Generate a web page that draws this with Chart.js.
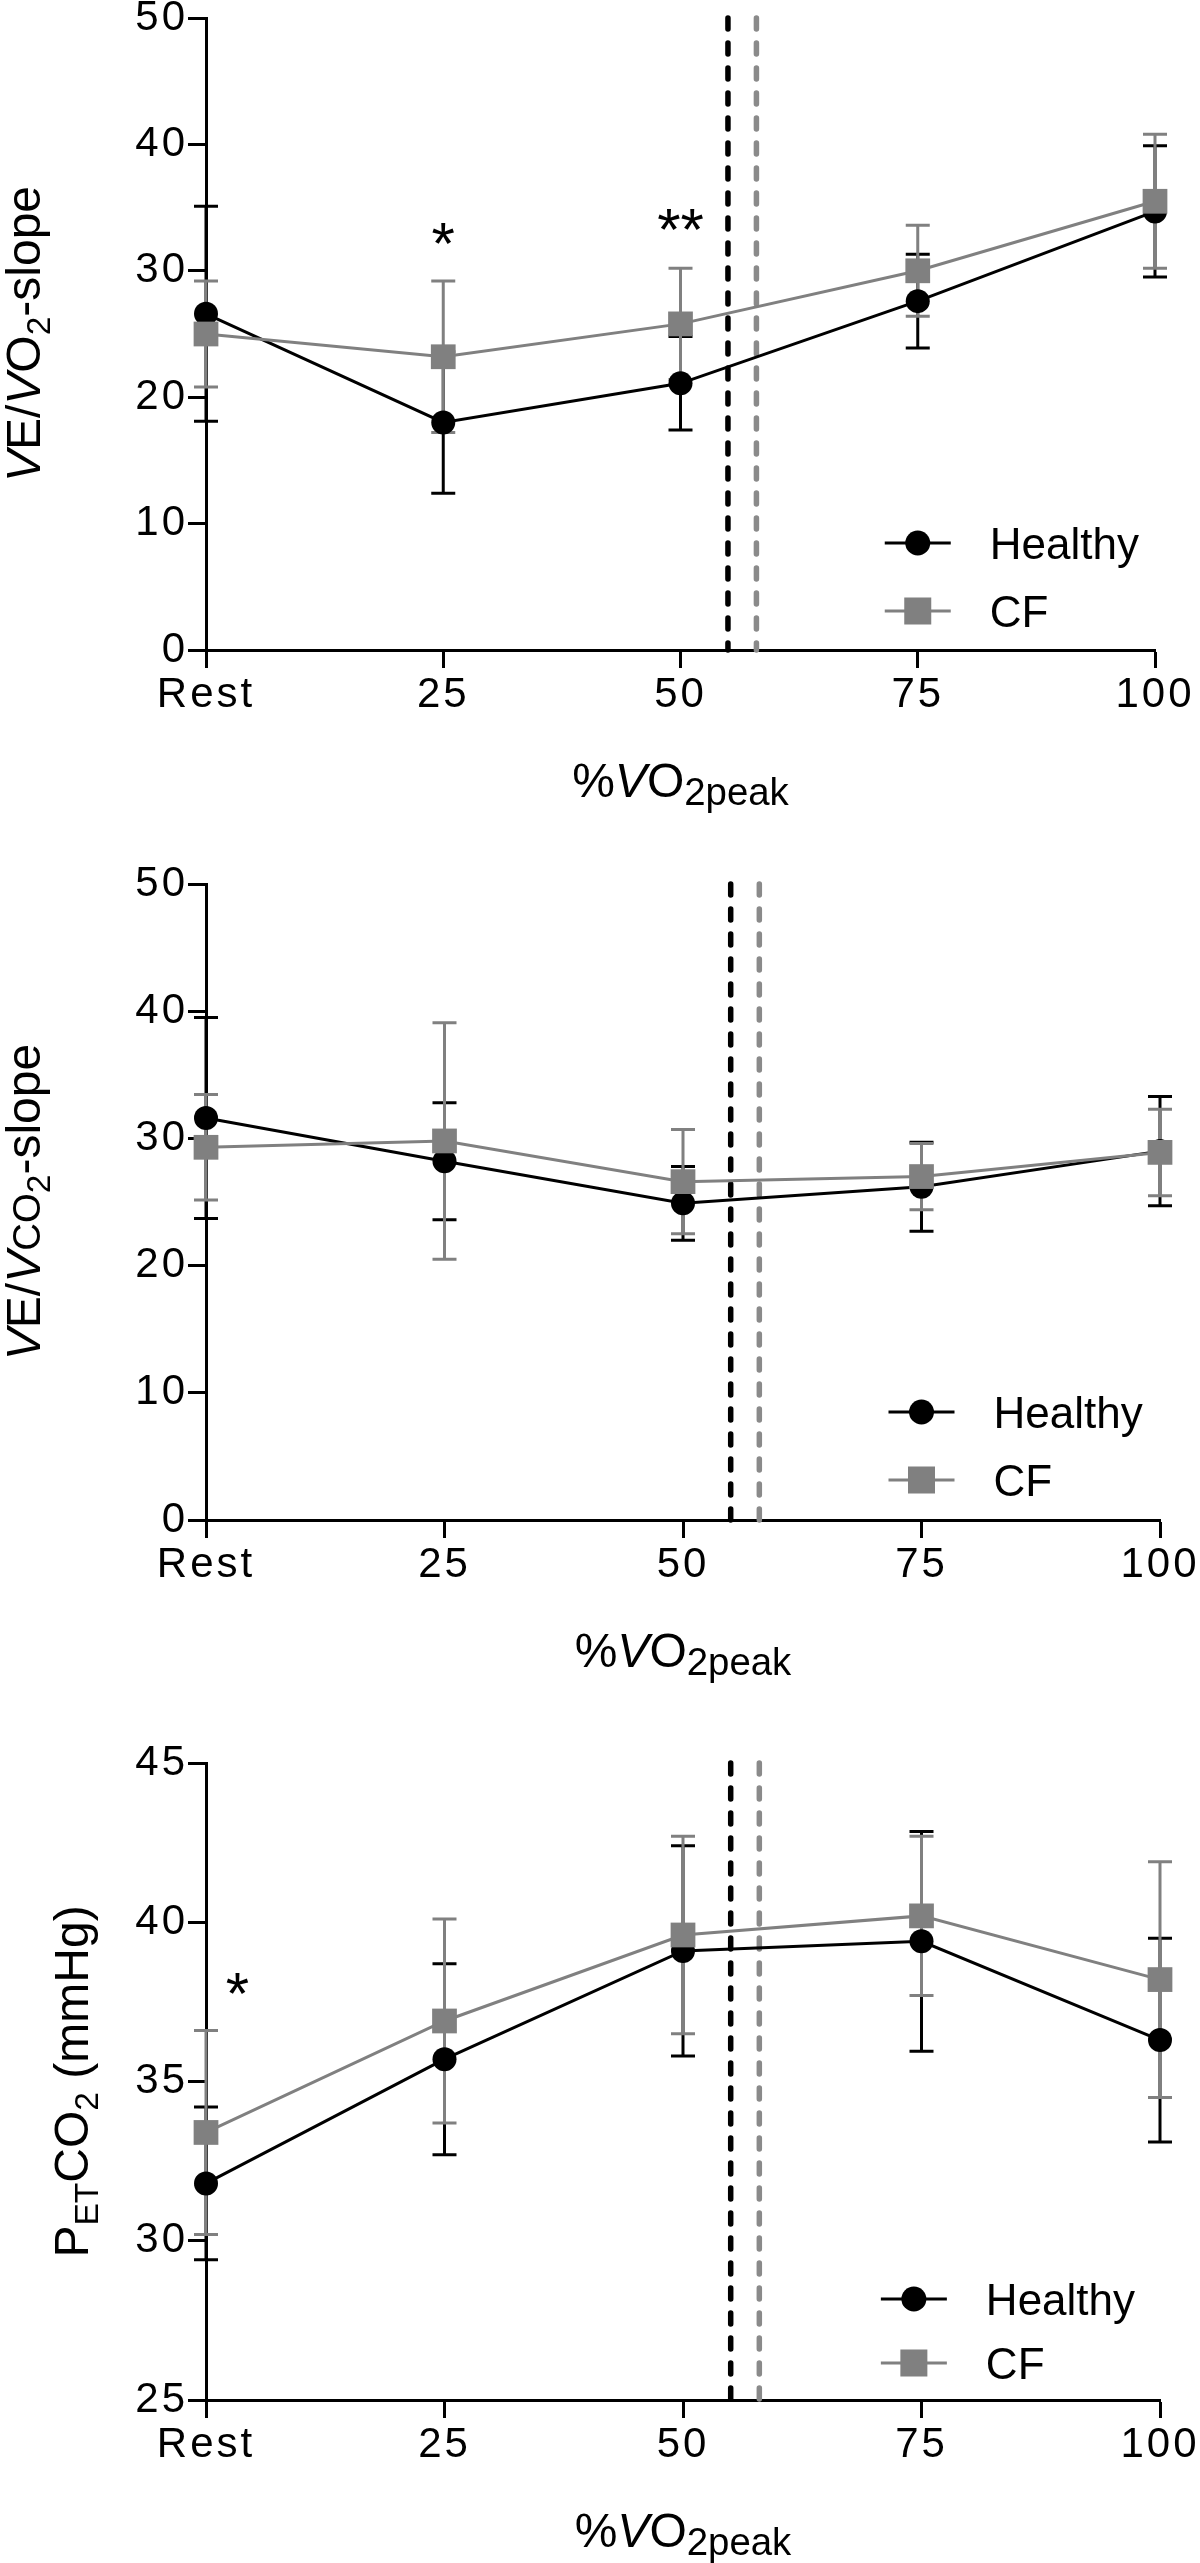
<!DOCTYPE html>
<html>
<head>
<meta charset="utf-8">
<script src="https://cdn.jsdelivr.net/npm/chart.js@4.4.1/dist/chart.umd.min.js"></script>
<style>
  html, body { margin: 0; padding: 0; background: #fff; }
  body { width: 1200px; height: 2563px; position: relative; overflow: hidden; }
  .panel { position: absolute; left: 0; width: 1200px; }
</style>
</head>
<body>
<div class="panel" style="top:-12px;height:832px"><canvas id="veVo2"></canvas></div>
<div class="panel" style="top:854px;height:836px"><canvas id="veVco2"></canvas></div>
<div class="panel" style="top:1733px;height:837px"><canvas id="petco2"></canvas></div>

<script>
// ---- data (mean ± SD) ----
const xLevels = [0, 25, 50, 75, 100];
const xTickLabels = ['Rest', '25', '50', '75', '100'];
const thresholdHealthy = 55;   // %VO2peak, dashed black
const thresholdCF = 58;        // %VO2peak, dashed grey

const veVo2Healthy = [26.6, 18.0, 21.1, 27.6, 34.7];
const veVo2HealthySd = [8.5, 5.6, 3.7, 3.7, 5.2];
const veVo2CF = [25.0, 23.2, 25.8, 30.0, 35.5];
const veVo2CFSd = [4.2, 6.0, 4.4, 3.6, 5.3];

const veVco2Healthy = [31.6, 28.2, 24.9, 26.2, 29.0];
const veVco2HealthySd = [7.9, 4.6, 2.9, 3.5, 4.3];
const veVco2CF = [29.3, 29.8, 26.6, 27.0, 28.9];
const veVco2CFSd = [4.15, 9.3, 4.1, 2.6, 3.4];

const petco2Healthy = [31.8, 35.7, 39.1, 39.4, 36.3];
const petco2HealthySd = [2.4, 3.0, 3.3, 3.45, 3.2];
const petco2CF = [33.4, 36.9, 39.6, 40.2, 38.2];
const petco2CFSd = [3.2, 3.2, 3.1, 2.5, 3.7];

// significance marks, in data coordinates
const sigVeVo2 = [{ x: 25, y: 33.2, text: '*' }, { x: 50, y: 34.3, text: '**' }];
const sigVeVco2 = [];
const sigPetco2 = [{ x: 3.3, y: 38.2, text: '*' }];

// ---- style ----
const FONT = '"Liberation Sans", Arial, sans-serif';
const BLACK = '#000000';
const GREY = '#808080';
const GREY_DASH = '#8a8a8a';
const CAP = 12;

function series(label, values, sd, color, style, radius, order) {
  return {
    label,
    data: xLevels.map((x, i) => ({ x, y: values[i] })),
    errors: sd,
    borderColor: color,
    backgroundColor: color,
    borderWidth: 3,
    pointStyle: style,
    pointRadius: radius,
    pointHoverRadius: radius,
    pointBorderWidth: 0,
    tension: 0,
    clip: false,
    order,
  };
}

function threshold(x, yMin, yMax, color) {
  return {
    label: 'threshold',
    data: [{ x, y: yMax }, { x, y: yMin }],
    borderColor: color,
    borderWidth: 5.5,
    borderDash: [11, 14],
    borderCapStyle: 'round',
    pointRadius: 0,
    clip: false,
    order: 3,
  };
}

// draws a run of styled text pieces centred on x=0, baseline y=0
function drawRich(ctx, parts, size) {
  let total = 0;
  const items = parts.map(p => {
    const s = size * (p.scale || 1);
    const font = (p.italic ? 'italic ' : '') + s + 'px ' + FONT;
    ctx.font = font;
    const w = ctx.measureText(p.t).width;
    total += w;
    return { t: p.t, font, w, dy: (p.dy || 0) * size };
  });
  let x = -total / 2;
  ctx.textAlign = 'left';
  ctx.textBaseline = 'alphabetic';
  items.forEach(it => {
    ctx.font = it.font;
    ctx.fillText(it.t, x, it.dy);
    x += it.w;
  });
}

const decorPlugin = {
  id: 'decor',
  beforeDraw(chart) {
    // the original tick labels are set a little loose
    chart.ctx.letterSpacing = '3px';
  },
  beforeDatasetsDraw(chart) {
    const { ctx, scales: { x, y } } = chart;
    const sets = chart.data.datasets.filter(d => d.errors).sort((a, b) => b.order - a.order);
    sets.forEach(ds => {
      ctx.save();
      ctx.strokeStyle = ds.borderColor;
      ctx.lineWidth = 3;
      ds.data.forEach((p, i) => {
        const px = x.getPixelForValue(p.x);
        const top = y.getPixelForValue(p.y + ds.errors[i]);
        const bot = y.getPixelForValue(p.y - ds.errors[i]);
        ctx.beginPath();
        ctx.moveTo(px, top); ctx.lineTo(px, bot);
        ctx.moveTo(px - CAP, top); ctx.lineTo(px + CAP, top);
        ctx.moveTo(px - CAP, bot); ctx.lineTo(px + CAP, bot);
        ctx.stroke();
      });
      ctx.restore();
    });
  },
  afterDraw(chart, args, opts) {
    const { ctx, chartArea: area, scales: { x, y } } = chart;
    ctx.letterSpacing = '0px';
    ctx.save();
    ctx.fillStyle = BLACK;

    // y title (rotated)
    ctx.save();
    ctx.translate(opts.yTitleX, (area.top + area.bottom) / 2);
    ctx.rotate(-Math.PI / 2);
    drawRich(ctx, opts.yTitle, 48);
    ctx.restore();

    // x title
    ctx.save();
    ctx.translate(x.getPixelForValue(50), area.bottom + 147);
    drawRich(ctx, xTitle, 48);
    ctx.restore();

    // significance asterisks
    ctx.font = '60px ' + FONT;
    ctx.textAlign = 'center';
    ctx.textBaseline = 'alphabetic';
    opts.sig.forEach(s => {
      ctx.fillText(s.text, x.getPixelForValue(s.x), y.getPixelForValue(s.y) + 34);
    });

    // legend
    const mx = area.left + opts.legendFrac * (area.right - area.left);
    const rows = [
      { label: 'Healthy', color: BLACK, style: 'circle', dy: opts.legendRows[0] },
      { label: 'CF', color: GREY, style: 'rect', dy: opts.legendRows[1] },
    ];
    rows.forEach(r => {
      const my = area.bottom - r.dy;
      ctx.strokeStyle = r.color;
      ctx.fillStyle = r.color;
      ctx.lineWidth = 3;
      ctx.beginPath();
      ctx.moveTo(mx - 33, my); ctx.lineTo(mx + 33, my);
      ctx.stroke();
      if (r.style === 'circle') {
        ctx.beginPath(); ctx.arc(mx, my, 12.5, 0, Math.PI * 2); ctx.fill();
      } else {
        ctx.fillRect(mx - 13.5, my - 13.5, 27, 27);
      }
      ctx.fillStyle = BLACK;
      ctx.font = '44px ' + FONT;
      ctx.textAlign = 'left';
      ctx.fillText(r.label, mx + 72, my + 16);
    });
    ctx.restore();
  },
};

const xTitle = [
  { t: '%' }, { t: 'V', italic: true }, { t: 'O' }, { t: '2peak', scale: 0.8, dy: 0.16 },
];

function makeChart(id, cfg) {
  return new Chart(document.getElementById(id), {
    type: 'line',
    data: {
      datasets: [
        series('CF', cfg.cf, cfg.cfSd, GREY, 'rect', 17.5, 0),
        series('Healthy', cfg.healthy, cfg.healthySd, BLACK, 'circle', 12, 1),
        threshold(thresholdHealthy, cfg.yMin, cfg.yMax, BLACK),
        threshold(thresholdCF, cfg.yMin, cfg.yMax, GREY_DASH),
      ],
    },
    options: {
      responsive: true,
      maintainAspectRatio: false,
      animation: false,
      layout: { padding: { top: 30, right: cfg.padRight, bottom: 0, left: 0 } },
      plugins: {
        legend: { display: false },
        tooltip: { enabled: false },
        decor: {
          yTitle: cfg.yTitle,
          yTitleX: cfg.yTitleX,
          sig: cfg.sig,
          legendFrac: cfg.legendFrac,
          legendRows: cfg.legendRows,
        },
      },
      scales: {
        x: {
          type: 'linear',
          min: 0,
          max: 100,
          afterFit: s => { s.height = 170; },
          afterBuildTicks: s => { s.ticks = xLevels.map(v => ({ value: v })); },
          ticks: {
            autoSkip: false,
            maxRotation: 0,
            padding: 2,
            color: BLACK,
            font: { family: FONT, size: 42 },
            callback: v => xTickLabels[xLevels.indexOf(v)],
          },
          grid: { drawOnChartArea: false, tickLength: 18, tickWidth: 3, tickColor: BLACK },
          border: { color: BLACK, width: 3 },
        },
        y: {
          min: cfg.yMin,
          max: cfg.yMax,
          afterFit: s => { s.width = 206; },
          ticks: {
            stepSize: cfg.yStep,
            padding: 0,
            color: BLACK,
            font: { family: FONT, size: 42 },
          },
          grid: { drawOnChartArea: false, tickLength: 18, tickWidth: 3, tickColor: BLACK },
          border: { color: BLACK, width: 3 },
        },
      },
    },
    plugins: [decorPlugin],
  });
}

makeChart('veVo2', {
  healthy: veVo2Healthy, healthySd: veVo2HealthySd, cf: veVo2CF, cfSd: veVo2CFSd,
  yMin: 0, yMax: 50, yStep: 10, padRight: 45,
  yTitleX: 40,
  yTitle: [{ t: 'V', italic: true }, { t: 'E/' }, { t: 'V', italic: true }, { t: 'O' },
    { t: '2', scale: 0.7, dy: 0.2 }, { t: '-slope' }],
  sig: sigVeVo2, legendFrac: 0.75, legendRows: [107, 39],
});

makeChart('veVco2', {
  healthy: veVco2Healthy, healthySd: veVco2HealthySd, cf: veVco2CF, cfSd: veVco2CFSd,
  yMin: 0, yMax: 50, yStep: 10, padRight: 40,
  yTitleX: 40,
  yTitle: [{ t: 'V', italic: true }, { t: 'E/' }, { t: 'V', italic: true }, { t: 'CO', scale: 0.8 },
    { t: '2', scale: 0.7, dy: 0.2 }, { t: '-slope' }],
  sig: sigVeVco2, legendFrac: 0.75, legendRows: [108, 40],
});

makeChart('petco2', {
  healthy: petco2Healthy, healthySd: petco2HealthySd, cf: petco2CF, cfSd: petco2CFSd,
  yMin: 25, yMax: 45, yStep: 5, padRight: 40,
  yTitleX: 88,
  yTitle: [{ t: 'P' }, { t: 'ET', scale: 0.7, dy: 0.2 }, { t: 'CO' },
    { t: '2', scale: 0.7, dy: 0.2 }, { t: ' (mmHg)' }],
  sig: sigPetco2, legendFrac: 0.742, legendRows: [101, 37],
});
</script>
</body>
</html>
